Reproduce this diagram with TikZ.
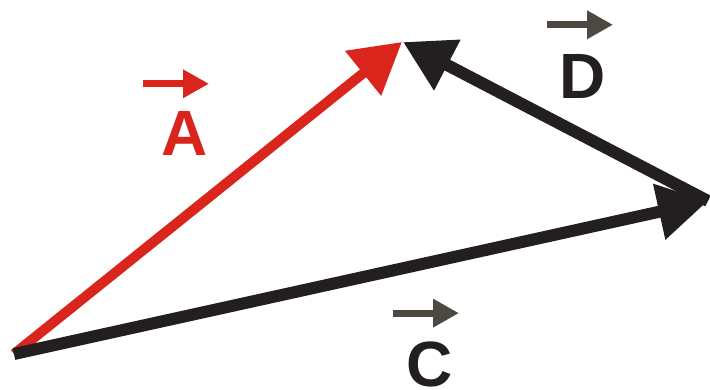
\documentclass[tikz,border=0pt]{standalone}
\usepackage{fontspec}
\setmainfont{Liberation Sans}
\usetikzlibrary{arrows.meta}
\definecolor{vecred}{RGB}{218,37,29}
\definecolor{vecblack}{RGB}{35,31,32}
\definecolor{vecgray}{RGB}{77,73,66}
\begin{document}
\begin{tikzpicture}[x=1pt, y=-1pt,
    redvec/.style={draw=vecred, line width=10pt, -{Triangle[length=50pt,width=55pt]}},
    blackvec/.style={draw=vecblack, line width=12pt, -{Triangle[length=50pt,width=54pt]}},
    veclabel/.style={font=\fontsize{64}{64}\selectfont\bfseries, inner sep=0pt},
    vecbar/.style={line width=7pt, -{Triangle[length=26pt,width=27pt]}}]
    \useasboundingbox (0,0) rectangle (710,390);

    \coordinate (O) at (14,354);
    \coordinate (P) at (402,42);
    \coordinate (Q) at (708,201);

    % the three vectors
    \draw[redvec] (O) -- (P);
    \draw[blackvec] (Q) -- ([xshift=1pt]P);
    \draw[blackvec] (O) -- (Q);

    % labels with their arrows
    \node[veclabel, text=vecred] (labA) at (185,133) {A};
    \node[veclabel, text=vecblack] (labD) at (583,76) {D};
    \node[veclabel, text=vecblack] (labC) at (430,364) {C};

    \draw[vecbar, vecred] ([xshift=-42pt,yshift=27pt]labA.north) -- ++(66,0);
    \draw[vecbar, vecgray] ([xshift=-36pt,yshift=29pt]labD.north) -- ++(66,0);
    \draw[vecbar, vecgray] ([xshift=-37pt,yshift=28pt]labC.north) -- ++(66,0);
\end{tikzpicture}
\end{document}
